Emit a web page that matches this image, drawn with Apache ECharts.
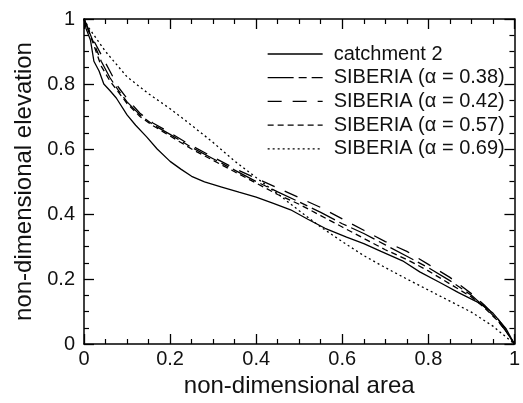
<!DOCTYPE html>
<html>
<head>
<meta charset="utf-8">
<script src="https://cdn.jsdelivr.net/npm/echarts@6/dist/echarts.min.js"></script>
<style>
html,body{margin:0;padding:0;background:#fff;}
#chart{width:523px;height:403px;}
</style>
</head>
<body>
<div id="chart"></div>
<script>
// ---- data ----
const catchmentX = [0, 0.005, 0.015, 0.023, 0.035, 0.046, 0.06, 0.075, 0.1, 0.12, 0.145, 0.17, 0.2, 0.225, 0.25, 0.28, 0.32, 0.36, 0.4, 0.44, 0.48, 0.52, 0.56, 0.61, 0.65, 0.69, 0.74, 0.78, 0.83, 0.87, 0.92, 0.95, 0.98, 1];
const catchmentY = [1, 0.97, 0.935, 0.87, 0.84, 0.8, 0.78, 0.757, 0.705, 0.673, 0.638, 0.6, 0.562, 0.538, 0.516, 0.499, 0.483, 0.467, 0.452, 0.433, 0.413, 0.384, 0.356, 0.329, 0.309, 0.285, 0.256, 0.222, 0.187, 0.158, 0.125, 0.095, 0.048, 0];

const sibX = [0, 0.02, 0.04, 0.06, 0.08, 0.1, 0.13, 0.16, 0.2, 0.25, 0.3, 0.35, 0.4, 0.45, 0.5, 0.55, 0.6, 0.65, 0.7, 0.75, 0.8, 0.85, 0.9, 0.93, 0.96, 0.98, 1];
const sib038Y = [1, 0.935, 0.87, 0.82, 0.78, 0.745, 0.705, 0.675, 0.645, 0.605, 0.57, 0.535, 0.5, 0.468, 0.437, 0.405, 0.37, 0.34, 0.305, 0.27, 0.235, 0.195, 0.15, 0.115, 0.075, 0.04, 0];
const sib042Y = [1, 0.94, 0.89, 0.84, 0.79, 0.755, 0.71, 0.68, 0.65, 0.61, 0.575, 0.54, 0.51, 0.48, 0.45, 0.42, 0.385, 0.35, 0.315, 0.285, 0.245, 0.205, 0.155, 0.12, 0.08, 0.045, 0];
const sib057Y = [1, 0.93, 0.855, 0.81, 0.775, 0.74, 0.7, 0.672, 0.64, 0.6, 0.565, 0.53, 0.495, 0.46, 0.43, 0.395, 0.36, 0.325, 0.29, 0.26, 0.225, 0.185, 0.145, 0.112, 0.073, 0.04, 0];

const dotX = [0, 0.01, 0.05, 0.1, 0.15, 0.2, 0.25, 0.3, 0.35, 0.4, 0.45, 0.5, 0.55, 0.6, 0.65, 0.7, 0.75, 0.8, 0.85, 0.9, 0.95, 1];
const sib069Y = [1, 0.975, 0.9, 0.822, 0.77, 0.724, 0.673, 0.62, 0.563, 0.512, 0.462, 0.41, 0.36, 0.315, 0.272, 0.235, 0.2, 0.166, 0.132, 0.098, 0.055, 0];

const seriesNames = ['catchment 2', 'SIBERIA (\u03b1 = 0.38)', 'SIBERIA (\u03b1 = 0.42)', 'SIBERIA (\u03b1 = 0.57)', 'SIBERIA (\u03b1 = 0.69)'];
const xTickLabels = ['0', '0.2', '0.4', '0.6', '0.8', '1'];
const yTickLabels = ['0', '0.2', '0.4', '0.6', '0.8', '1'];
const xTitle = 'non-dimensional area';
const yTitle = 'non-dimensional elevation';

// ---- chart ----
const pairs = (xs, ys) => xs.map((x, i) => [x, ys[i]]);
const FONT = '"Liberation Sans", Arial, Helvetica, sans-serif';
const dashes = [
  'solid',
  [26, 5, 8, 5],
  [14, 11],
  [6, 4],
  [2, 3]
];
const seriesData = [
  pairs(catchmentX, catchmentY),
  pairs(sibX, sib038Y),
  pairs(sibX, sib042Y),
  pairs(sibX, sib057Y),
  pairs(dotX, sib069Y)
];

const fmtX = v => xTickLabels[Math.round(v / 0.2)] ?? '';
const fmtY = v => yTickLabels[Math.round(v / 0.2)] ?? '';

const axisCommon = {
  type: 'value', min: 0, max: 1, interval: 0.2,
  axisLine: { show: true, onZero: false, lineStyle: { color: '#000', width: 1.5 } },
  axisTick: { show: true, inside: true, length: 10, lineStyle: { color: '#000', width: 1.3 } },
  minorTick: { show: true, splitNumber: 4, length: 5, lineStyle: { color: '#000', width: 1.2 } },
  splitLine: { show: false },
  minorSplitLine: { show: false }
};

const chart = echarts.init(document.getElementById('chart'), null, { renderer: 'canvas' });
chart.setOption({
  animation: false,
  backgroundColor: '#fff',
  grid: { left: 84, right: 2, top: 19, bottom: 59, containLabel: false },
  legend: {
    orient: 'vertical',
    left: 262, top: 39,
    itemWidth: 55, itemHeight: 14, itemGap: 3.7,
    data: seriesNames,
    textStyle: { fontFamily: FONT, fontSize: 20, lineHeight: 20, color: '#111', padding: [0, 0, 0, 6] },
    itemStyle: { opacity: 0 },
    lineStyle: { type: 'inherit', width: 'inherit', color: 'inherit' }
  },
  xAxis: [
    Object.assign({}, axisCommon, {
      position: 'bottom',
      name: xTitle, nameLocation: 'middle', nameGap: 29,
      nameTextStyle: { fontFamily: FONT, fontSize: 24, color: '#111' },
      axisLabel: { show: true, margin: 5, formatter: fmtX, fontFamily: FONT, fontSize: 20, color: '#111' }
    }),
    Object.assign({}, axisCommon, {
      position: 'top',
      axisLabel: { show: false }
    })
  ],
  yAxis: [
    Object.assign({}, axisCommon, {
      position: 'left',
      name: yTitle, nameLocation: 'middle', nameGap: 47,
      nameTextStyle: { fontFamily: FONT, fontSize: 24, color: '#111' },
      axisLabel: { show: true, margin: 9, formatter: fmtY, fontFamily: FONT, fontSize: 20, color: '#111' }
    }),
    Object.assign({}, axisCommon, {
      position: 'right',
      axisLabel: { show: false }
    })
  ],
  series: seriesNames.map((name, i) => ({
    name: name,
    type: 'line',
    xAxisIndex: 0, yAxisIndex: 0,
    data: seriesData[i],
    symbol: 'none',
    showSymbol: false,
    smooth: false,
    lineStyle: { color: '#000', width: 1.3, type: dashes[i] },
    emphasis: { disabled: true }
  }))
});
</script>
</body>
</html>
